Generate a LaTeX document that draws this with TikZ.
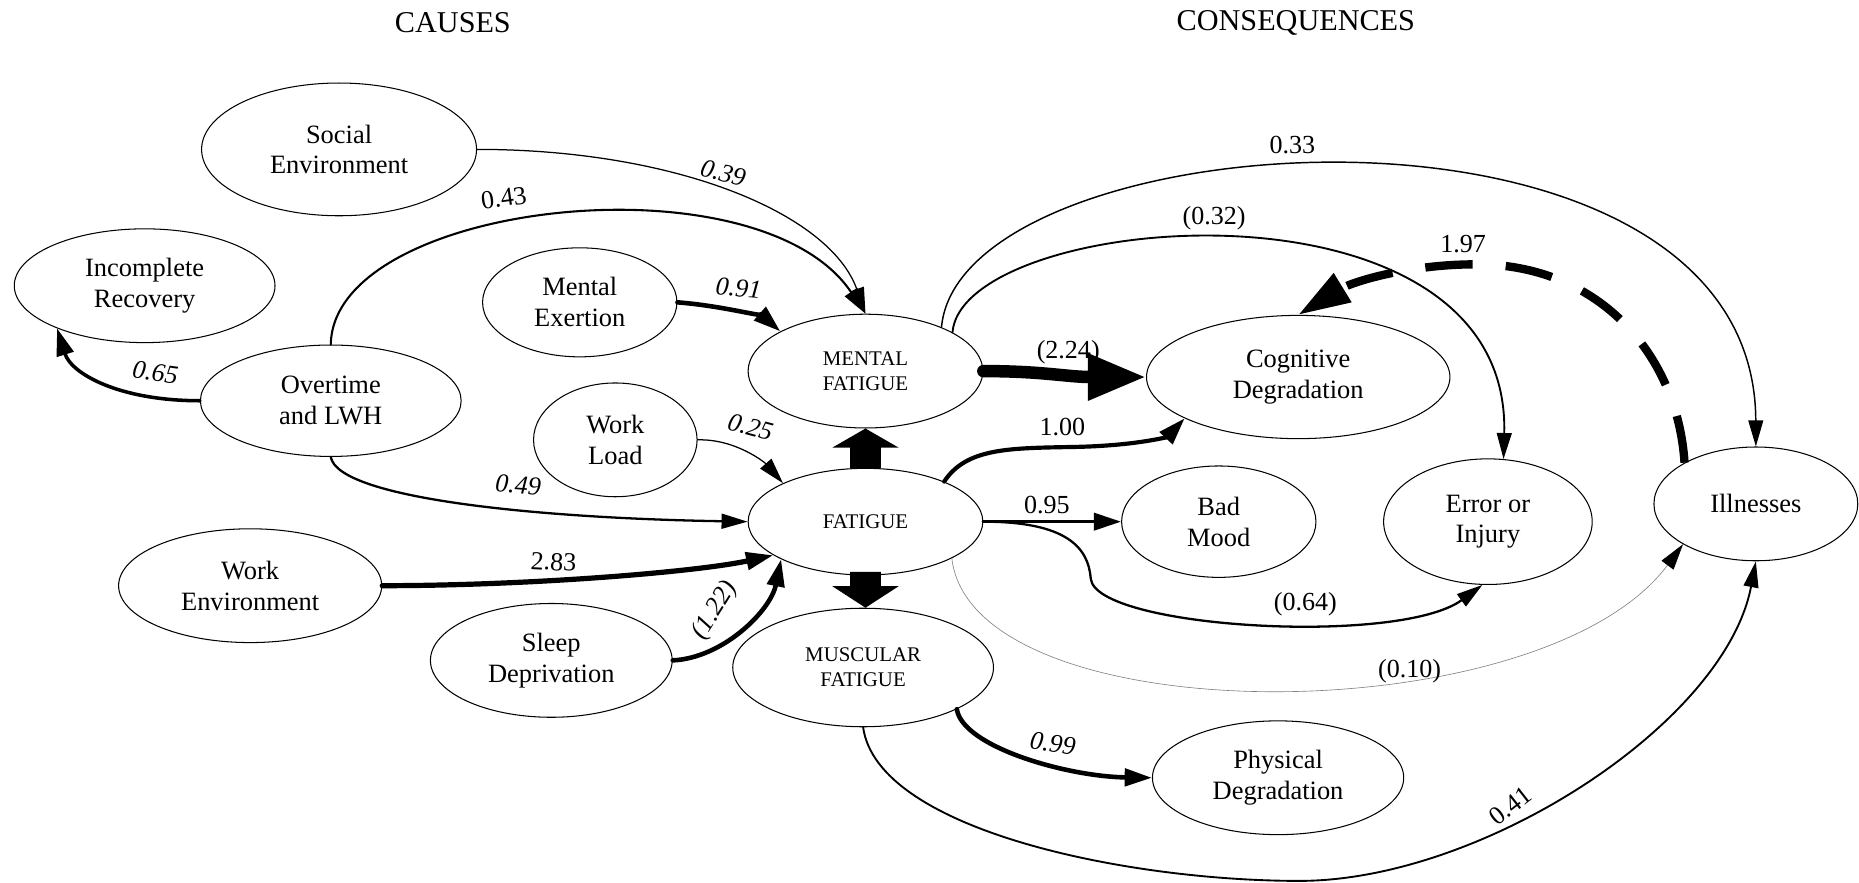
\documentclass[tikz,border=0pt]{standalone}
\usepackage{fontspec}
\setmainfont{Liberation Serif}
\usetikzlibrary{shapes.geometric,arrows.meta,calc}

\begin{document}
\begin{tikzpicture}[x=0.02cm,y=-0.02cm,line cap=round,line join=round,
  ell/.style 2 args={draw,ellipse,line width=0.5pt,inner sep=0pt,align=center,
    minimum width=#1*0.04cm,minimum height=#2*0.04cm,font=\fontsize{12.7}{14.8}\selectfont},
  caps/.style={font=\fontsize{10}{12}\selectfont},
  lbl/.style={inner sep=1pt,font=\fontsize{12.5}{14}\selectfont},
  ilbl/.style={inner sep=1pt,font=\fontsize{12.5}{14}\selectfont\itshape},
  title/.style={font=\fontsize{14.5}{17}\selectfont},
  arr/.style={-{Triangle[length=0.44cm,width=0.25cm]}},
  arrb/.style={-{Triangle[length=0.46cm,width=0.29cm]}}]
\useasboundingbox (0,0) rectangle (1568,744);

\node[title] (causes) at (382,19) {CAUSES};
\node[title] (conseq) at (1093,19) {CONSEQUENCES};

% causes
\node[ell={116}{56}] (SE) at (286,126) {Social\\Environment};
\node[ell={110}{48}] (IR) at (122,241) {Incomplete\\Recovery};
\node[ell={82}{46}] (ME) at (489,255) {Mental\\Exertion};
\node[ell={110}{47}] (OT) at (279,338) {Overtime\\and LWH};
\node[ell={69}{48}] (WL) at (519,371) {Work\\Load};
\node[ell={111}{48}] (WE) at (211,494) {Work\\Environment};
\node[ell={102}{48}] (SD) at (465,557) {Sleep\\Deprivation};
% fatigue
\node[ell={99}{48},caps] (MF) at (730,313) {MENTAL\\FATIGUE};
\node[ell={99}{45},caps] (F) at (730,440) {FATIGUE};
\node[ell={110}{50},caps] (MU) at (728,563) {MUSCULAR\\FATIGUE};
% consequences
\node[ell={128}{52}] (CD) at (1095,318) {Cognitive\\Degradation};
\node[ell={82}{47}] (BM) at (1028,440) {Bad\\Mood};
\node[ell={88}{53}] (EI) at (1255,440) {Error or\\Injury};
\node[ell={86}{48}] (IL) at (1481,425) {Illnesses};
\node[ell={106}{48}] (PD) at (1078,656) {Physical\\Degradation};

% causes -> fatigue
\draw[arr,line width=0.6pt] (SE.east) .. controls (570,126) and (700,180) .. (MF.north);
\node[ilbl,rotate=-15] (l39) at (610,146) {0.39};
\draw[arr,line width=1pt] (OT.north) .. controls (281,170) and (640,130) .. (MF.north);
\node[lbl,rotate=8] (l43) at (425,167) {0.43};
\draw[arrb,line width=2.2pt] (ME.east) .. controls (610,258) and (645,268) .. (MF.155);
\node[ilbl,rotate=-5] (l91) at (623,243) {0.91};
\draw[arrb,line width=1.7pt] (OT.west) .. controls (100,338) and (60,315) .. (IR.206);
\node[ilbl,rotate=-8] (l65) at (131,314) {0.65};
\draw[arr,line width=0.6pt] (WL.east) .. controls (620,370) and (645,390) .. (F.155);
\node[ilbl,rotate=-15] (l25) at (633,360) {0.25};
\draw[arr,line width=1.1pt] (OT.south) .. controls (285,420) and (450,437) .. (F.west);
\node[ilbl,rotate=-4] (l49) at (437,409) {0.49};
\draw[arrb,line width=2.5pt] (WE.east) .. controls (450,494) and (590,482) .. (F.200);
\node[lbl,rotate=-3] (l283) at (467,474) {2.83};
\draw[arrb,line width=2.2pt] (SD.east) .. controls (610,555) and (650,515) .. (F.204);
\node[ilbl,rotate=58] (l122) at (603,515) {(1.22)};

% block arrows
\fill ($(F.north)+(-13,0)$) -- ($(F.north)+(-13,-17)$) -- ($(F.north)+(-28,-17)$) -- (F.north |- MF.south)
  -- ($(F.north)+(28,-17)$) -- ($(F.north)+(13,-17)$) -- ($(F.north)+(13,0)$) -- cycle;
\fill ($(F.south)+(-13,-3)$) -- ($(F.south)+(-13,9)$) -- ($(F.south)+(-28,9)$) -- (F.south |- MU.north)
  -- ($(F.south)+(28,9)$) -- ($(F.south)+(13,9)$) -- ($(F.south)+(13,-3)$) -- cycle;

% fatigue -> consequences
\draw[line width=6pt,-{Triangle[length=0.98cm,width=0.74cm]}] (MF.east) .. controls (880,313) and (900,318) .. (CD.west);
\node[lbl] (l224) at (901,297) {(2.24)};
\draw[arrb,line width=2pt] (F.27) .. controls (815,378) and (850,378) .. (905,377) .. controls (960,376) and (985,368) .. (CD.200);
\node[lbl] (l100) at (896,360) {1.00};
\draw[arrb,line width=1.7pt] (F.east) -- (BM.west);
\node[lbl] (l95) at (883,426) {0.95};
\draw[arr,line width=1.1pt] (F.east) .. controls (900,440) and (918,462) .. (920,488) .. controls (924,530) and (1180,545) .. (EI.265);
\node[lbl] (l64) at (1101,510) {(0.64)};
\draw[gray,line width=0.3pt,-{Triangle[length=0.44cm,width=0.25cm,black]}] (F.337) .. controls (820,620) and (1300,620) .. (IL.209);
\node[lbl] (l10) at (1189,566) {(0.10)};
\draw[arr,line width=0.7pt] (MF.30) .. controls (810,100) and (1480,55) .. (IL.north);
\node[lbl] (l33) at (1090,122) {0.33};
\draw[arr,line width=0.9pt] (MF.24) .. controls (812,178) and (1275,138) .. (EI.76);
\node[lbl] (l32) at (1024,184) {(0.32)};
\draw[line width=4pt,line cap=butt,dash pattern=on 0.8cm off 0.56cm,-{Triangle[length=0.88cm,width=0.54cm]}]
  (IL.150) .. controls (1415,300) and (1350,225) .. (1250,223) .. controls (1190,222) and (1140,238) .. (CD.north);
\node[lbl] (l197) at (1234,206) {1.97};
\draw[arrb,line width=2.2pt] (MU.336) .. controls (812,630) and (900,655) .. (PD.west);
\node[ilbl,rotate=-8] (l99) at (888,627) {0.99};
\draw[arr,line width=0.9pt] (MU.south) .. controls (740,700) and (950,743) .. (1096,743)
  .. controls (1250,743) and (1455,610) .. (IL.south);
\node[lbl,rotate=38] (l41) at (1274,680) {0.41};
\end{tikzpicture}
\end{document}
